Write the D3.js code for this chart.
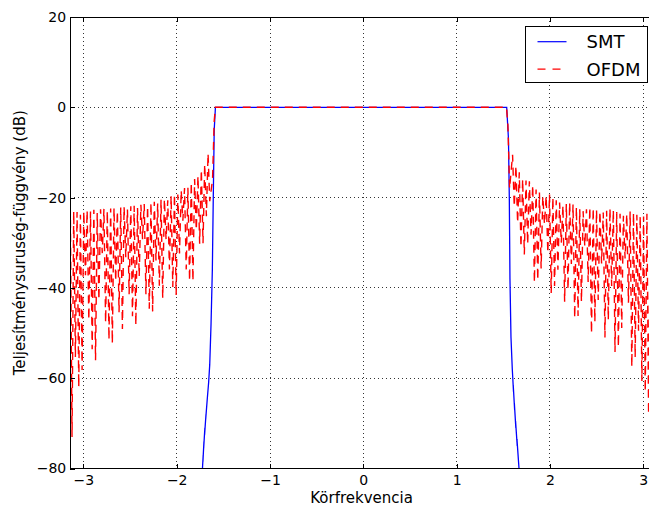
<!DOCTYPE html>
<html>
<head>
<meta charset="utf-8">
<script src="https://cdn.jsdelivr.net/npm/d3@7"></script>
<style>
  body { margin: 0; background: #fff; }
  svg { display: block; }
  text { font-family: "DejaVu Sans", sans-serif; fill: #000; }
</style>
</head>
<body>
<div id="chart"></div>
<script>
// axis ticks
var xTicks = [-3, -2, -1, 0, 1, 2, 3];
var yTicks = [-80, -60, -40, -20, 0, 20];
var seriesNames = ["SMT", "OFDM"];

// SMT spectrum (frequency in rad, dB)
var smtCurve = [[-1.76,-95],[-1.724,-80],[-1.716,-77],[-1.719,-78.5],[-1.708,-74],[-1.711,-75.5],
  [-1.698,-71],[-1.701,-72.5],[-1.686,-68],[-1.689,-69],[-1.672,-64.5],[-1.658,-61],[-1.646,-57],
  [-1.632,-48],[-1.618,-36],[-1.608,-20],[-1.598,-5],[-1.585,0],
  [1.537,0],[1.556,-7],[1.565,-20],[1.572,-38],[1.583,-51],[1.597,-58],[1.61,-63],[1.607,-61.5],
  [1.622,-67],[1.619,-65.5],[1.635,-71],[1.632,-69.5],[1.65,-75],[1.647,-73.5],[1.669,-80],[1.71,-95]];

// OFDM sidelobes: alternating peak / trough samples
var ofdmStep = 0.036;
var ofdmLeftStart = -3.14;
var ofdmLeftPeaks = [-23.5,-23.0,-23.2,-23.8,-23.0,-22.8,-23.1,-22.7,-23.4,-22.6,-22.5,-22.9,
  -22.4,-22.3,-23.0,-22.2,-22.0,-22.6,-21.9,-21.8,-22.3,-21.6,-21.4,-21.9,-21.1,-20.9,-21.3,
  -20.5,-20.3,-20.6,-19.6,-19.2,-19.3,-18.4,-17.9,-17.8,-16.6,-15.9,-15.2,-13.8,-12.6,-10.2];
var ofdmLeftTroughs = [-73,-55.3,-62,-58.2,-37.2,-47.1,-53.6,-56,-42.7,-32.3,-47.7,-51.5,
  -52.3,-38.5,-45.4,-49.1,-33.2,-41.4,-46.3,-48.3,-37.5,-29.2,-41.4,-44.6,-45.2,-33.9,-39.5,
  -42.3,-29.3,-35.9,-39.8,-41.6,-32.4,-25.1,-35.9,-38.5,-38.5,-27.2,-30.2,-30.1,-24.1,-20.8];
var ofdmRightStart = 1.600;
var ofdmRightPeaks = [-10.5,-12.9,-14.4,-15.9,-16.2,-16.4,-17.2,-18.2,-18.9,-19.7,-19.6,-19.3,
  -19.9,-20.6,-21.1,-21.7,-21.4,-21.1,-21.5,-22.1,-22.6,-23.0,-22.6,-22.1,-22.3,-22.7,-23.0,
  -23.3,-22.9,-22.4,-22.7,-23.2,-23.6,-24.0,-23.6,-23.1,-23.4,-23.8,-24.0,-24.2,-23.6,-23.1,-23.5];
var ofdmRightTroughs = [-22,-25.6,-31,-32.6,-30.3,-28.2,-38.8,-38.3,-35.7,-25.9,-32.3,-41.1,
  -39.6,-36.0,-30.0,-43.1,-40.4,-34.7,-46.7,-46.2,-43.1,-30.8,-38.7,-50.1,-47.5,-42.7,-34.6,
  -51.0,-47.1,-39.6,-54.2,-53.1,-48.9,-33.5,-43.3,-57.5,-55.4,-49.5,-60.6,-63.0,-68,-66.2,-74];
// passband and the ends of the curve
var ofdmLeftEnd = [[-3.16,-50]];
var ofdmBand = [[-1.616,-16],[-1.598,-3],[-1.585,0],[1.535,0],[1.55,-4],[1.568,-18]];
var ofdmRightEnd = [[3.15,-24]];

function sidelobes(start, peaks, troughs){
  var pts = [];
  peaks.forEach(function(p, i){
    pts.push([start + i * ofdmStep, p]);
    pts.push([start + (i + 0.5) * ofdmStep, troughs[i]]);
  });
  return pts;
}

var ofdmCurve = [].concat(ofdmLeftEnd,
  sidelobes(ofdmLeftStart, ofdmLeftPeaks, ofdmLeftTroughs),
  ofdmBand,
  sidelobes(ofdmRightStart, ofdmRightPeaks, ofdmRightTroughs),
  ofdmRightEnd);

var width = 649, height = 509;
var plotTop = 17, plotBottom = 468.5, plotLeft = 70.2, plotRight = 656.4;

var x = d3.scaleLinear().domain([-Math.PI, Math.PI]).range([plotLeft, plotRight]);
var y = d3.scaleLinear().domain([-80, 20]).range([plotBottom, plotTop]);

var svg = d3.select("#chart").append("svg")
    .attr("width", width).attr("height", height);

svg.append("defs").append("clipPath").attr("id", "plotclip")
  .append("rect")
    .attr("x", plotLeft).attr("y", plotTop)
    .attr("width", plotRight - plotLeft).attr("height", plotBottom - plotTop);

// grid
var grid = svg.append("g")
    .attr("stroke", "#333").attr("stroke-width", 1)
    .attr("stroke-dasharray", "1,3").attr("shape-rendering", "crispEdges");
grid.selectAll(".vg").data(xTicks).enter().append("line")
    .attr("x1", function(d){ return x(d); }).attr("x2", function(d){ return x(d); })
    .attr("y1", plotTop).attr("y2", plotBottom);
grid.selectAll(".hg").data(yTicks).enter().append("line")
    .attr("x1", plotLeft).attr("x2", plotRight)
    .attr("y1", function(d){ return y(d); }).attr("y2", function(d){ return y(d); });

// curves
var line = d3.line().x(function(d){ return x(d[0]); }).y(function(d){ return y(d[1]); });
var plot = svg.append("g").attr("clip-path", "url(#plotclip)");
plot.append("path").datum(smtCurve)
    .attr("d", line).attr("fill", "none")
    .attr("stroke", "#0000ff").attr("stroke-width", 1.3);
plot.append("path").datum(ofdmCurve)
    .attr("d", line).attr("fill", "none")
    .attr("stroke", "#ff0000").attr("stroke-width", 1.4)
    .attr("stroke-dasharray", "8,6");

// frame
svg.append("rect")
    .attr("x", plotLeft).attr("y", plotTop)
    .attr("width", plotRight - plotLeft).attr("height", plotBottom - plotTop)
    .attr("fill", "none").attr("stroke", "#000").attr("stroke-width", 1)
    .attr("shape-rendering", "crispEdges");

// axes, ticks pointing inward
var fmt = d3.format("d");
var xAxis = svg.append("g").attr("transform", "translate(0," + plotBottom + ")")
    .call(d3.axisBottom(x).tickValues(xTicks).tickSize(-5).tickPadding(7).tickFormat(fmt));
var xTop = svg.append("g").attr("transform", "translate(0," + plotTop + ")")
    .call(d3.axisTop(x).tickValues(xTicks).tickSize(-5).tickFormat(""));
var yAxis = svg.append("g").attr("transform", "translate(" + plotLeft + ",0)")
    .call(d3.axisLeft(y).tickValues(yTicks).tickSize(-5).tickPadding(4).tickFormat(fmt));

[xAxis, xTop, yAxis].forEach(function(g){
  g.select(".domain").remove();
  g.attr("font-family", null).attr("font-size", 14);
  g.selectAll("line").attr("stroke", "#000").attr("shape-rendering", "crispEdges");
});

// axis labels
svg.append("text")
    .attr("x", (plotLeft + 649) / 2 + 2).attr("y", 503)
    .attr("text-anchor", "middle").attr("font-size", 15)
    .text("Körfrekvencia");
svg.append("text")
    .attr("transform", "translate(24.5," + ((plotTop + plotBottom) / 2) + ") rotate(-90)")
    .attr("text-anchor", "middle").attr("font-size", 15)
    .text("Teljesítménysuruség-függvény (dB)");

// legend
var legend = svg.append("g");
legend.append("rect")
    .attr("x", 525.5).attr("y", 26.5).attr("width", 122).attr("height", 56)
    .attr("fill", "#fff").attr("stroke", "#000").attr("shape-rendering", "crispEdges");
var styles = [{stroke: "#0000ff", dash: null}, {stroke: "#ff0000", dash: "8,7"}];
var entry = legend.selectAll(".entry").data(seriesNames).enter().append("g")
    .attr("transform", function(d, i){ return "translate(0," + (41.7 + i * 27.5) + ")"; });
entry.append("line")
    .attr("x1", 537.5).attr("x2", 566.5).attr("y1", 0).attr("y2", 0)
    .attr("stroke", function(d, i){ return styles[i].stroke; })
    .attr("stroke-dasharray", function(d, i){ return styles[i].dash; })
    .attr("stroke-width", 1.2);
entry.append("text")
    .attr("x", 586.5).attr("y", 6.6)
    .attr("font-size", 18)
    .text(function(d){ return d; });
</script>
</body>
</html>
